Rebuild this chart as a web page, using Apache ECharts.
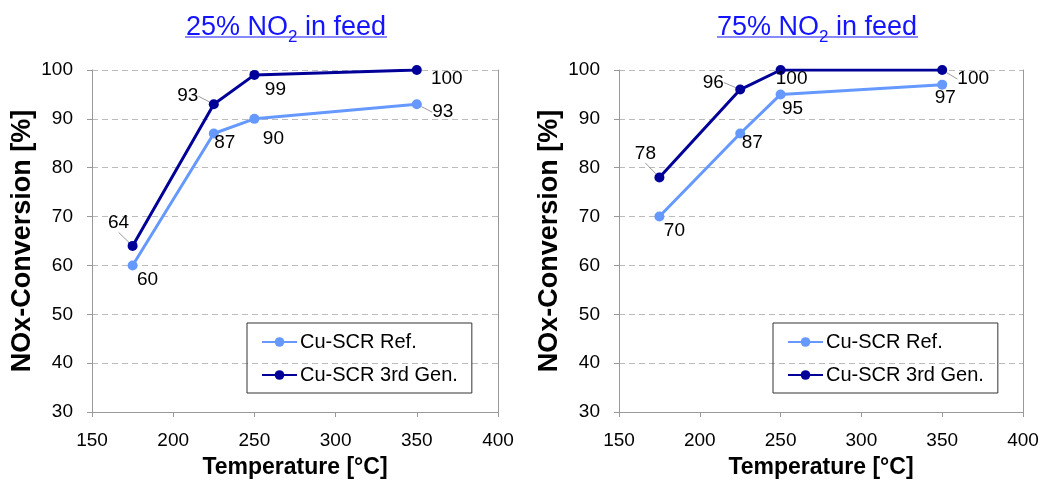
<!DOCTYPE html>
<html><head><meta charset="utf-8">
<script src="https://cdn.jsdelivr.net/npm/echarts@6/dist/echarts.min.js"></script>
<style>html,body{margin:0;padding:0;background:#fff}#c{width:1043px;height:480px}</style>
</head><body><div id="c"></div>
<script>
// ---- data ----
const temperatures = [175, 225, 250, 350];
const ref25 = [60, 87, 90, 93];
const gen25 = [64, 93, 99, 100];
const ref75 = [70, 87, 95, 97];
const gen75 = [78, 96, 100, 100];
const seriesNames = ['Cu-SCR Ref.', 'Cu-SCR 3rd Gen.'];
const titles = ['25% NO', '75% NO'];
const xName = 'Temperature [°C]';
const yName = 'NOx-Conversion [%]';

// ---- label placement (style) ----
const offRef25 = [[15,14],[11,9],[19,20],[26,8]];
const offGen25 = [[-14,-23],[-26,-8],[21,15],[30,9]];
const offRef75 = [[15,14],[12,9],[12,14],[3,13]];
const offGen75 = [[-14,-24],[-27,-7],[11,9],[31,9]];
const leadRef25 = [0,0,0,1], leadGen25 = [1,1,0,0], leadRef75 = [0,0,0,0], leadGen75 = [1,1,0,1];

const FONT = 'Liberation Sans, Arial, sans-serif';
const LIGHT = '#6699ff', DARK = '#000099', TITLE_C = '#1414ff';

function mkData(vals, lead) {
  return vals.map((v, i) => ({
    value: [temperatures[i], v],
    labelLine: { show: !!lead[i] }
  }));
}
function mkSeries(name, vals, off, lead, color, gi) {
  return {
    type: 'line', name, xAxisIndex: gi, yAxisIndex: gi * 2,
    data: mkData(vals, lead),
    symbol: 'circle', symbolSize: 10,
    lineStyle: { color, width: 3 }, itemStyle: { color },
    label: {
      show: true, position: 'inside', color: '#000', fontSize: 19, fontFamily: FONT,
      align: 'center', verticalAlign: 'middle',
      formatter: p => p.value[1]
    },
    labelLine: { show: false, lineStyle: { color: '#999', width: 1 } },
    labelLayout: p => ({ dx: off[p.dataIndex][0], dy: off[p.dataIndex][1] }),
    emphasis: { disabled: true }
  };
}

const grids = [
  { left: 92, right: 545, top: 70, bottom: 68, outerBoundsMode: 'none', containLabel: false },
  { left: 619, right: 20, top: 70, bottom: 68, outerBoundsMode: 'none', containLabel: false }
];
function xAx(gi) {
  return {
    type: 'value', gridIndex: gi, min: 150, max: 400, interval: 50,
    name: xName, nameLocation: 'middle', nameGap: 44,
    nameTextStyle: { fontSize: 23, fontWeight: 'bold', color: '#000', fontFamily: FONT },
    axisLine: { lineStyle: { color: '#999' } },
    axisTick: { show: true, length: 5, lineStyle: { color: '#999' } },
    axisLabel: { fontSize: 19, color: '#000', fontFamily: FONT, margin: 19 },
    splitLine: { show: false }
  };
}
function yAxes(gi) {
  return [{
    type: 'value', gridIndex: gi, min: 30, max: 100, interval: 10,
    name: yName, nameLocation: 'middle', nameGap: 56, nameRotate: 90,
    nameTextStyle: { fontSize: 27, fontWeight: 'bold', color: '#000', fontFamily: FONT },
    axisLine: { show: true, lineStyle: { color: '#999' } },
    axisTick: { show: true, length: 5, lineStyle: { color: '#999' } },
    axisLabel: { fontSize: 19, color: '#000', fontFamily: FONT, margin: 19 },
    splitLine: { show: true, lineStyle: { color: '#bbb', type: [6, 4], width: 1 } }
  }, {
    type: 'value', gridIndex: gi, position: 'right', min: 30, max: 100, interval: 10,
    axisLine: { show: true, lineStyle: { color: '#999' } },
    axisTick: { show: false }, axisLabel: { show: false }, splitLine: { show: false }
  }];
}
function legend(left) {
  return {
    left, top: 323, orient: 'vertical', data: seriesNames,
    itemWidth: 35, itemHeight: 12, itemGap: 11,
    padding: [8, 14, 7, 14],
    borderColor: '#333', borderWidth: 1,
    textStyle: { fontSize: 20, color: '#000', fontFamily: FONT, lineHeight: 22, padding: [0, 0, 0, -2] },
    selectedMode: false
  };
}
function title(text, cx) {
  return {
    text: '{m|' + text + '}{s|2}{m| in feed}',
    left: cx, top: 6, textAlign: 'center',
    textStyle: {
      fontWeight: 'normal',
      rich: {
        m: { fontSize: 27, fontWeight: 'normal', color: TITLE_C, fontFamily: FONT, lineHeight: 30, verticalAlign: 'bottom' },
        s: { fontSize: 17, fontWeight: 'normal', color: TITLE_C, fontFamily: FONT, lineHeight: 30, verticalAlign: 'bottom', padding: [0, 0, -5, 0] }
      }
    }
  };
}

const chart = echarts.init(document.getElementById('c'), null, { renderer: 'canvas' });
chart.setOption({
  animation: false,
  title: [title(titles[0], 281), title(titles[1], 812)],
  grid: grids,
  xAxis: [xAx(0), xAx(1)],
  yAxis: [...yAxes(0), ...yAxes(1)],
  legend: [legend(247), legend(773)],
  graphic: [
    { type: 'line', shape: { x1: 185, y1: 37, x2: 387, y2: 37 }, style: { stroke: TITLE_C, lineWidth: 1.2 } },
    { type: 'line', shape: { x1: 717, y1: 37, x2: 918, y2: 37 }, style: { stroke: TITLE_C, lineWidth: 1.2 } }
  ],
  series: [
    mkSeries(seriesNames[0], ref25, offRef25, leadRef25, LIGHT, 0),
    mkSeries(seriesNames[1], gen25, offGen25, leadGen25, DARK, 0),
    mkSeries(seriesNames[0], ref75, offRef75, leadRef75, LIGHT, 1),
    mkSeries(seriesNames[1], gen75, offGen75, leadGen75, DARK, 1)
  ]
});
</script></body></html>
